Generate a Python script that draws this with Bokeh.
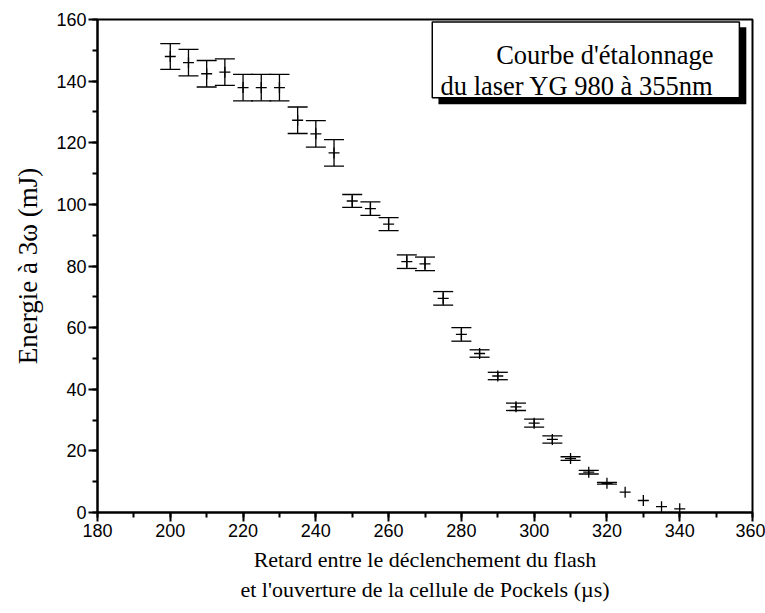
from bokeh.plotting import figure
from bokeh.models import (Whisker, TeeHead, ColumnDataSource, BoxAnnotation,
                          Label, FixedTicker, Range1d)
from bokeh.embed import file_html
from bokeh.resources import INLINE

# ---- data ----
delay_us = [200, 205, 210, 215, 220, 225, 230, 235, 240, 245,
            250, 255, 260, 265, 270, 275, 280, 285, 290, 295,
            300, 305, 310, 315, 320, 325, 330, 335, 340]
energy_mJ = [148.0, 146.0, 142.4, 142.9, 137.9, 137.9, 137.9, 127.3, 122.9, 116.7,
             101.1, 98.6, 93.6, 81.4, 80.7, 69.5, 57.8, 51.6, 44.3, 34.3,
             29.0, 23.7, 17.5, 13.1, 9.5, 6.6, 3.9, 1.9, 1.2]
error_mJ = [4.2, 4.3, 4.3, 4.3, 4.3, 4.3, 4.3, 4.3, 4.3, 4.3,
            2.1, 2.2, 2.1, 2.2, 2.2, 2.2, 2.2, 1.2, 1.2, 1.2,
            1.3, 1.2, 0.6, 0.6, 0.3, 0.0, 0.0, 0.0, 0.0]
x_ticks = [180, 200, 220, 240, 260, 280, 300, 320, 340, 360]
y_ticks = [0, 20, 40, 60, 80, 100, 120, 140, 160]
x_minor = list(range(180, 361, 10))
y_minor = list(range(0, 161, 10))

SERIF = "Liberation Serif"
SANS = "Liberation Sans"

src = ColumnDataSource(dict(x=delay_us, y=energy_mJ))
idx = [i for i, e in enumerate(error_mJ) if e > 0]
err_src = ColumnDataSource(dict(
    x=[delay_us[i] for i in idx],
    upper=[energy_mJ[i] + error_mJ[i] for i in idx],
    lower=[energy_mJ[i] - error_mJ[i] for i in idx],
))

p = figure(width=765, height=613, x_range=Range1d(180, 360), y_range=Range1d(0, 160),
           output_backend="svg", toolbar_location=None,
           min_border_left=97, min_border_right=13, min_border_top=19, min_border_bottom=101)
p.grid.visible = False
p.outline_line_color = "black"
p.outline_line_width = 2
p.outline_line_alpha = 1
p.background_fill_color = "white"
p.border_fill_color = "white"

for ax, ticks, minor in ((p.xaxis[0], x_ticks, x_minor), (p.yaxis[0], y_ticks, y_minor)):
    ax.ticker = FixedTicker(ticks=ticks, minor_ticks=minor)
    ax.axis_line_width = 2
    ax.major_tick_line_width = 2
    ax.minor_tick_line_width = 2
    ax.major_tick_out = 9
    ax.major_tick_in = 0
    ax.minor_tick_out = 5
    ax.minor_tick_in = 0
    ax.major_label_text_font = SANS
    ax.major_label_text_font_size = "18px"
    ax.major_label_text_color = "black"
    ax.axis_label_text_font = SERIF
    ax.axis_label_text_font_style = "normal"
    ax.axis_label_text_color = "black"
    ax.major_label_standoff = 2

p.xaxis.axis_label = "Retard entre le déclenchement du flash\net l'ouverture de la cellule de Pockels (µs)"
p.xaxis.axis_label_text_font_size = "22px"
p.xaxis.axis_label_standoff = 7
p.yaxis.axis_label = "Energie à 3ω (mJ)"
p.yaxis.axis_label_text_font_size = "27px"
p.yaxis.axis_label_standoff = 10

whisk = Whisker(source=err_src, base="x", upper="upper", lower="lower",
                line_color="black", line_width=1.3,
                upper_head=TeeHead(size=20, line_color="black", line_width=1.3),
                lower_head=TeeHead(size=20, line_color="black", line_width=1.3))
p.add_layout(whisk)
p.scatter("x", "y", source=src, marker="cross", size=11, line_color="black", line_width=1.3)

# framed caption with drop shadow
p.add_layout(BoxAnnotation(left=273.7, right=358.3, top=157.5, bottom=132.5,
                           fill_color="black", fill_alpha=1, line_alpha=0, level="overlay"))
p.add_layout(BoxAnnotation(left=272.0, right=356.4, top=159.2, bottom=134.6,
                           fill_color="white", fill_alpha=1, line_color="black",
                           line_width=1.5, line_alpha=1, level="overlay"))
for txt, yy in (("Courbe d'étalonnage", 148.4), ("du laser YG 980 à 355nm", 138.3)):
    p.add_layout(Label(x=349.3, y=yy, text=txt, text_align="right", text_baseline="alphabetic",
                       text_font=SERIF, text_font_size="26.5px", text_color="black", level="overlay"))

open("out.html", "w").write(file_html(p, INLINE))
